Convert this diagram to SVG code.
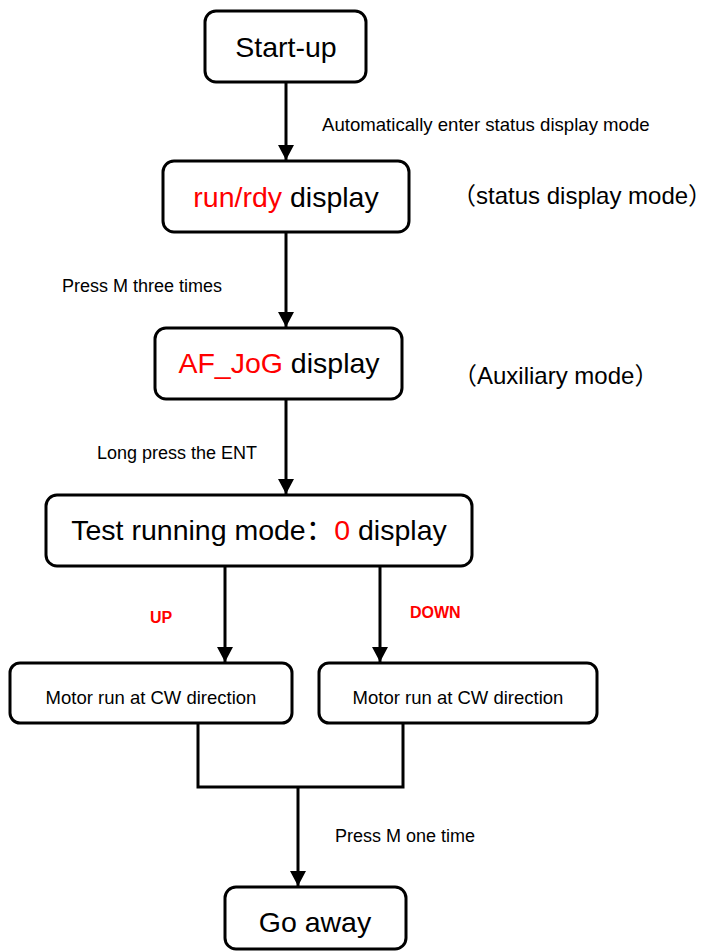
<svg xmlns="http://www.w3.org/2000/svg" width="714" height="952" viewBox="0 0 714 952">
<style>
.box{fill:#fff;stroke:#000;stroke-width:3}
.big{font-family:"Liberation Sans","Noto Sans CJK SC",sans-serif;font-size:28.5px;fill:#000}
.sm{font-family:"Liberation Sans","Noto Sans CJK SC",sans-serif;font-size:18px;fill:#000}
.mid{font-family:"Liberation Sans","Noto Sans CJK SC",sans-serif;font-size:24px;fill:#000}
.red{fill:#ff0000}
.bold{font-family:"Liberation Sans",sans-serif;font-size:16px;font-weight:bold;fill:#ff0000}
.ln{fill:none;stroke:#000;stroke-width:3}
</style>
<defs>
<marker id="arr" markerUnits="userSpaceOnUse" markerWidth="16" markerHeight="16" refX="15" refY="8" orient="auto">
<path d="M0,0 L15,8 L0,16 Z" fill="#000"/>
</marker>
</defs>
<g id="connectors">
<line class="ln" x1="286" y1="82" x2="286" y2="160" marker-end="url(#arr)"/>
<line class="ln" x1="286" y1="232" x2="286" y2="327" marker-end="url(#arr)"/>
<line class="ln" x1="286" y1="399" x2="286" y2="494" marker-end="url(#arr)"/>
<line class="ln" x1="225" y1="566" x2="225" y2="662" marker-end="url(#arr)"/>
<line class="ln" x1="380" y1="566" x2="380" y2="662" marker-end="url(#arr)"/>
<polyline class="ln" points="198,723 198,787 403,787 403,723"/>
<line class="ln" x1="298" y1="787" x2="298" y2="886" marker-end="url(#arr)"/>
<text class="sm" x="322" y="131" style="font-size:18.6px">Automatically enter status display mode</text>
<text class="sm" x="62" y="292">Press M three times</text>
<text class="sm" x="97" y="459">Long press the ENT</text>
<text class="bold" x="150" y="623">UP</text>
<text class="bold" x="410" y="618">DOWN</text>
<text class="sm" x="335" y="842">Press M one time</text>
</g>
<g id="startup">
<rect class="box" x="205" y="11" width="161" height="71" rx="11"/>
<text class="big" x="286" y="57" text-anchor="middle">Start-up</text>
</g>
<g id="runrdy">
<rect class="box" x="163" y="161" width="246" height="71" rx="11"/>
<text class="big" x="286" y="207" text-anchor="middle"><tspan class="red">run/rdy</tspan> display</text>
</g>
<text class="mid" x="452" y="204">（status display mode）</text>
<g id="afjog">
<rect class="box" x="155" y="328" width="247" height="71" rx="11"/>
<text class="big" x="279" y="373" text-anchor="middle"><tspan class="red">AF_JoG</tspan> display</text>
</g>
<text class="mid" x="453" y="384">（Auxiliary mode）</text>
<g id="testmode">
<rect class="box" x="46" y="495" width="426" height="71" rx="11"/>
<text class="big" x="259" y="540" text-anchor="middle">Test running mode：<tspan class="red">0</tspan> display</text>
</g>
<g id="motor_up">
<rect class="box" x="10" y="663" width="282" height="60" rx="10"/>
<text class="sm" x="151" y="704" text-anchor="middle" style="font-size:18.5px">Motor run at CW direction</text>
</g>
<g id="motor_down">
<rect class="box" x="319" y="663" width="278" height="60" rx="10"/>
<text class="sm" x="458" y="704" text-anchor="middle" style="font-size:18.5px">Motor run at CW direction</text>
</g>
<g id="goaway">
<rect class="box" x="225" y="887" width="181" height="62" rx="11"/>
<text class="big" x="315" y="932" text-anchor="middle">Go away</text>
</g>
</svg>
